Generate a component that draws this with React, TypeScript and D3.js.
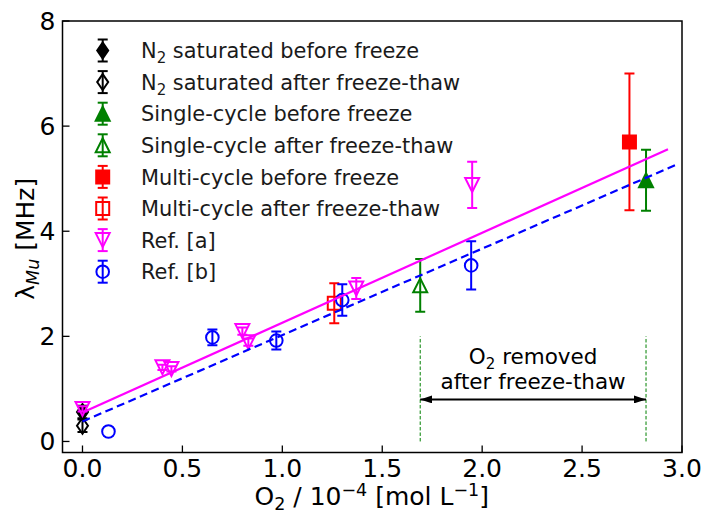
import React from "react";
import * as d3 from "d3";

// ---------- data ----------
const n2BeforeX = [0.0];
const n2BeforeY = [0.56];
const n2BeforeErr = [0.12];

const n2AfterX = [0.0];
const n2AfterY = [0.3];
const n2AfterErr = [0.12];

const singleBeforeX = [2.82];
const singleBeforeY = [4.97];
const singleBeforeErr = [0.58];

const singleAfterX = [1.69];
const singleAfterY = [2.97];
const singleAfterErr = [0.5];

const multiBeforeX = [2.737];
const multiBeforeY = [5.7];
const multiBeforeErr = [1.3];

const multiAfterX = [1.26];
const multiAfterY = [2.63];
const multiAfterErr = [0.38];

const refAX = [0.0, 0.4, 0.445, 0.8, 0.83, 1.37, 1.95];
const refAY = [0.62, 1.41, 1.38, 2.1, 1.89, 2.91, 4.88];
const refAErr = [0.05, 0.05, 0.05, 0.07, 0.07, 0.2, 0.44];

const refBX = [0.13, 0.65, 0.97, 1.3, 1.945];
const refBY = [0.19, 1.98, 1.92, 2.69, 3.35];
const refBErr = [0.0, 0.15, 0.17, 0.3, 0.46];

const fitAX = [0.0, 2.93];
const fitAY = [0.55, 5.56];
const fitBX = [0.0, 2.98];
const fitBY = [0.38, 5.28];

const removedX = [1.69, 2.82];
const removedLineY = [0.0, 2.0];
const arrowY = 0.8;

const xTicks = [0, 0.5, 1.0, 1.5, 2.0, 2.5, 3.0];
const yTicks = [0, 2, 4, 6, 8];

type MarkerKind = "diamond" | "triUp" | "triDown" | "square" | "circle";

interface Series {
  label: string;
  sub?: string;
  rest?: string;
  x: number[];
  y: number[];
  err: number[];
  color: string;
  marker: MarkerKind;
  filled: boolean;
}

const series: Series[] = [
  { label: "N", sub: "2", rest: " saturated before freeze", x: n2BeforeX, y: n2BeforeY, err: n2BeforeErr, color: "black", marker: "diamond", filled: true },
  { label: "N", sub: "2", rest: " saturated after freeze-thaw", x: n2AfterX, y: n2AfterY, err: n2AfterErr, color: "black", marker: "diamond", filled: false },
  { label: "Single-cycle before freeze", x: singleBeforeX, y: singleBeforeY, err: singleBeforeErr, color: "green", marker: "triUp", filled: true },
  { label: "Single-cycle after freeze-thaw", x: singleAfterX, y: singleAfterY, err: singleAfterErr, color: "green", marker: "triUp", filled: false },
  { label: "Multi-cycle before freeze", x: multiBeforeX, y: multiBeforeY, err: multiBeforeErr, color: "red", marker: "square", filled: true },
  { label: "Multi-cycle after freeze-thaw", x: multiAfterX, y: multiAfterY, err: multiAfterErr, color: "red", marker: "square", filled: false },
  { label: "Ref. [a]", x: refAX, y: refAY, err: refAErr, color: "magenta", marker: "triDown", filled: false },
  { label: "Ref. [b]", x: refBX, y: refBY, err: refBErr, color: "blue", marker: "circle", filled: false },
];

// ---------- layout ----------
const W = 708;
const H = 513;
const L = 62.5;
const R = 682;
const T = 21;
const B = 452.5;
const FONT = "DejaVu Sans";

const xScale = d3.scaleLinear().domain([-0.1, 3.0]).range([L, R]);
const yScale = d3.scaleLinear().domain([-0.21, 8]).range([B, T]);

function markerPath(kind: MarkerKind): string {
  switch (kind) {
    case "diamond":
      return "M0,-8L5.5,0L0,8L-5.5,0Z";
    case "triUp":
      return "M0,-7L7,7L-7,7Z";
    case "triDown":
      return "M0,7L7,-7L-7,-7Z";
    case "square":
      return "M-6.5,-6.5L6.5,-6.5L6.5,6.5L-6.5,6.5Z";
    case "circle":
    default:
      return d3.arc()({ innerRadius: 0, outerRadius: 6.3, startAngle: 0, endAngle: 2 * Math.PI }) as string;
  }
}

function Marker({ s, cx, cy }: { s: Series; cx: number; cy: number }) {
  return (
    <path
      d={markerPath(s.marker)}
      transform={`translate(${cx},${cy})`}
      fill={s.filled ? s.color : "none"}
      stroke={s.color}
      strokeWidth={2}
    />
  );
}

function ErrorBar({ color, cx, y0, y1 }: { color: string; cx: number; y0: number; y1: number }) {
  const cap = 5;
  return (
    <g stroke={color} strokeWidth={2}>
      <line x1={cx} x2={cx} y1={y0} y2={y1} />
      <line x1={cx - cap} x2={cx + cap} y1={y0} y2={y0} />
      <line x1={cx - cap} x2={cx + cap} y1={y1} y2={y1} />
    </g>
  );
}

export default function App() {
  const lineA = d3.line<number>().x((d, i) => xScale(fitAX[i])).y((d) => yScale(d));
  const lineB = d3.line<number>().x((d, i) => xScale(fitBX[i])).y((d) => yScale(d));
  const ay = yScale(arrowY);
  const ax0 = xScale(removedX[0]);
  const ax1 = xScale(removedX[1]);
  const legendX = 102.7;
  const legendY0 = 50.5;
  const legendStep = 31.6;

  return (
    <svg width={W} height={H} style={{ position: "absolute", left: 0, top: 0, background: "white" }} fontFamily={FONT}>
      <defs>
        <clipPath id="plotclip">
          <rect x={L} y={T} width={R - L} height={B - T} />
        </clipPath>
        <marker id="ahead" viewBox="0 0 12 8" refX="12" refY="4" markerWidth="12" markerHeight="8" markerUnits="userSpaceOnUse" orient="auto-start-reverse">
          <path d="M0,0L12,4L0,8Z" fill="black" />
        </marker>
      </defs>
      <rect x={0} y={0} width={W} height={H} fill="white" />

      {/* ticks */}
      {xTicks.map((t) => (
        <g key={"xt" + t}>
          <line x1={xScale(t)} x2={xScale(t)} y1={B} y2={B - 7} stroke="black" strokeWidth={1.3} />
          <text x={xScale(t)} y={B + 24.5} fontSize={25} textAnchor="middle" fill="black">
            {t.toFixed(1)}
          </text>
        </g>
      ))}
      {yTicks.map((t) => (
        <g key={"yt" + t}>
          <line x1={L} x2={L + 7} y1={yScale(t)} y2={yScale(t)} stroke="black" strokeWidth={1.3} />
          <text x={L - 7} y={yScale(t) + 9} fontSize={25} textAnchor="end" fill="black">
            {t}
          </text>
        </g>
      ))}

      {/* annotation lines */}
      {removedX.map((x) => (
        <line
          key={"rx" + x}
          x1={xScale(x)}
          x2={xScale(x)}
          y1={yScale(removedLineY[0])}
          y2={yScale(removedLineY[1])}
          stroke="green"
          strokeWidth={1}
          strokeDasharray="3.5,2"
        />
      ))}
      <line x1={ax0} x2={ax1} y1={ay} y2={ay} stroke="black" strokeWidth={2} markerStart="url(#ahead)" markerEnd="url(#ahead)" />
      <text x={(ax0 + ax1) / 2} y={364} fontSize={21.5} textAnchor="middle" fill="black">
        O<tspan fontSize={15} dy={5}>2</tspan>
        <tspan dy={-5}> removed</tspan>
      </text>
      <text x={(ax0 + ax1) / 2} y={389} fontSize={21.5} textAnchor="middle" fill="black">
        after freeze-thaw
      </text>

      {/* data */}
      <g clipPath="url(#plotclip)">
        {series.map((s, si) => (
          <g key={"s" + si}>
            {s.x.map((x, i) => (
              <g key={i}>
                {s.err[i] > 0 && (
                  <ErrorBar color={s.color} cx={xScale(x)} y0={yScale(s.y[i] + s.err[i])} y1={yScale(s.y[i] - s.err[i])} />
                )}
                <Marker s={s} cx={xScale(x)} cy={yScale(s.y[i])} />
              </g>
            ))}
          </g>
        ))}
        <path d={lineA(fitAY) as string} stroke="magenta" strokeWidth={2.2} fill="none" />
        <path d={lineB(fitBY) as string} stroke="blue" strokeWidth={2.2} fill="none" strokeDasharray="8,4.5" />
      </g>

      {/* frame */}
      <rect x={L} y={T} width={R - L} height={B - T} fill="none" stroke="black" strokeWidth={1.5} />

      {/* legend */}
      {series.map((s, si) => {
        const cy = legendY0 + si * legendStep;
        return (
          <g key={"lg" + si}>
            <ErrorBar color={s.color} cx={legendX} y0={cy - 11} y1={cy + 11} />
            <Marker s={s} cx={legendX} cy={cy} />
            <text x={141} y={cy + 7.6} fontSize={20.9} fill="#1a1a1a">
              {s.label}
              {s.sub && (
                <tspan fontSize={15} dy={5}>
                  {s.sub}
                </tspan>
              )}
              {s.rest && <tspan dy={s.sub ? -5 : 0}>{s.rest}</tspan>}
            </text>
          </g>
        );
      })}

      {/* axis labels */}
      <text x={(L + R) / 2 - 0.5} y={505} fontSize={25} textAnchor="middle" fill="black">
        O<tspan fontSize={17.5} dy={5}>2</tspan>
        <tspan dy={-5}> / 10</tspan>
        <tspan fontSize={17.5} dy={-9}>−4</tspan>
        <tspan dy={9}> [mol L</tspan>
        <tspan fontSize={17.5} dy={-9}>−1</tspan>
        <tspan dy={9}>]</tspan>
      </text>
      <text transform={`translate(34,${(T + B) / 2 + 2}) rotate(-90)`} fontSize={25} textAnchor="middle" fill="black">
        λ<tspan fontSize={17.5} dy={5} fontStyle="italic">Mu</tspan>
        <tspan dy={-5}> [MHz]</tspan>
      </text>
    </svg>
  );
}
